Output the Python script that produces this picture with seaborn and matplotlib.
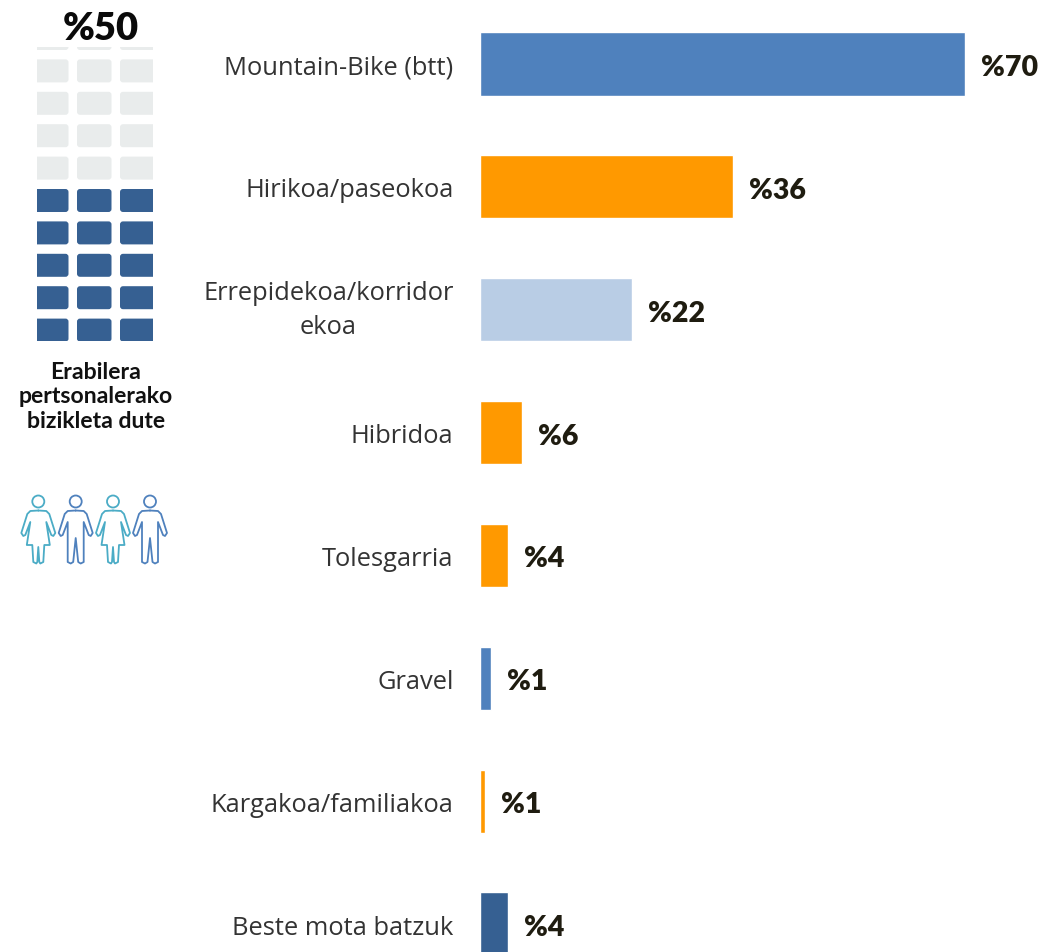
import matplotlib
matplotlib.use('Agg')
import matplotlib.pyplot as plt
from matplotlib.patches import FancyBboxPatch, Rectangle, Circle
import pandas as pd
import seaborn as sns

# Bar data
categories = ['Mountain-Bike (btt)', 'Hirikoa/paseokoa', 'Errepidekoa/korridor\nekoa', 'Hibridoa',
              'Tolesgarria', 'Gravel', 'Kargakoa/familiakoa', 'Beste mota batzuk']
values = [70, 36.5, 21.9, 6, 4, 1.5, 0.7, 4]
value_labels = ['%70', '%36', '%22', '%6', '%4', '%1', '%1', '%4']
bar_colors = ['#4F81BD', '#FF9900', '#B9CDE5', '#FF9900', '#FF9900', '#4F81BD', '#FF9900', '#366092']

# Left panel data
headline = '%50'
caption = 'Erabilera\npertsonalerako\nbizikleta dute'
waffle_rows = [0, 0, 0, 0, 0, 1, 1, 1, 1, 1]
people = ['woman', 'man', 'woman', 'man']

W, H = 1044, 953
sns.set_theme(style='white')
plt.rcParams['font.family'] = ['Open Sans', 'DejaVu Sans']

fig = plt.figure(figsize=(W / 100, H / 100), dpi=100)

# Bars, axes placed so that one unit is 6.93 px
left = 480.2
ax = fig.add_axes([left / W, 0, (W - left) / W, 1])
df = pd.DataFrame({'mota': categories, 'balioa': values})
sns.barplot(data=df, y='mota', x='balioa', hue='mota', palette=bar_colors,
            legend=False, width=0.515, saturation=1, ax=ax)
ax.set_xlim(0, (W - left) / 6.93)
ax.set_ylim((H - 65) / 122.86, -65 / 122.86)
ax.set_xlabel('')
ax.set_ylabel('')
ax.set_xticks([])
ax.tick_params(axis='y', length=0, pad=19.2, labelsize=18.4, labelcolor='#333333')
for lab in ax.get_yticklabels():
    lab.set_multialignment('center')
    if '\n' in lab.get_text():
        lab.set_linespacing(1.5)
        lab.set_verticalalignment('center')
sns.despine(ax=ax, left=True, bottom=True)

for cont, lab in zip(ax.containers, value_labels):
    for ann in ax.bar_label(cont, labels=[lab], padding=11.5, fontsize=20.5, fontweight='heavy',
                            family='Lato', color='#1F1C10'):
        ann.xyann = (ann.xyann[0], ann.xyann[1] - 2.2)

# Left panel in pixel units
side = fig.add_axes([0, 0, 1, 1], facecolor='none')
side.set_xlim(0, W)
side.set_ylim(H, 0)
side.axis('off')

clip = Rectangle((37, 48), 116, 294, transform=side.transData)
col_spans = [(30, 68.5), (77, 111.5), (120, 160)]
for r, filled in enumerate(waffle_rows):
    top = 28 + 32.4 * r
    for x0, x1 in col_spans:
        box = FancyBboxPatch((x0 + 3, top + 3), x1 - x0 - 6, 17,
                             boxstyle='round,pad=3,rounding_size=3',
                             fc='#366092' if filled else '#E9ECEC', ec='none')
        side.add_patch(box)
        box.set_clip_path(clip)

side.text(101, 29, headline, ha='center', va='center', fontsize=27.5, fontweight='heavy',
          family='Lato', color='#0A0A0A')
side.text(96, 397, caption, ha='center', va='center', fontsize=16.6, fontweight='bold',
          family='Lato', color='#111111', linespacing=1.18)

# Person outlines, half shape relative to the body axis, mirrored
woman_half = [(0, 210.5), (-8, 211), (-11, 214), (-17, 233), (-15, 236), (-13, 235), (-8, 222),
              (-11.5, 245), (-6, 245), (-5, 262), (-2, 263.5), (-1, 262), (0, 247)]
man_half = [(0, 210.5), (-8, 211), (-11, 214), (-17, 233), (-15, 236), (-13, 235), (-8, 222),
            (-8, 262), (-5, 263.5), (-2.5, 262), (0, 238)]
for cx, kind in zip([38.3, 75.7, 113, 150], people):
    half = woman_half if kind == 'woman' else man_half
    color = '#4BACC6' if kind == 'woman' else '#4F81BD'
    pts = half + [(-x, y) for x, y in reversed(half[:-1])]
    side.plot([cx + x for x, y in pts], [301 + y for x, y in pts], color=color, lw=1.3,
              solid_joinstyle='round')
    side.add_patch(Circle((cx, 502.5), 6, fc='none', ec=color, lw=1.3))

fig.savefig('out.png', dpi=100)
